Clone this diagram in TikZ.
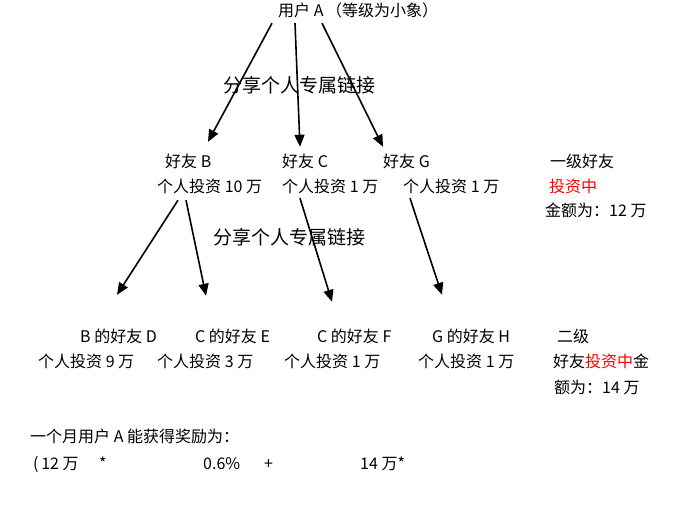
\documentclass[tikz,border=0pt]{standalone}
\usepackage{fontspec}
\setmainfont{Noto Sans CJK SC}
\usetikzlibrary{positioning, arrows.meta}

\begin{document}
\begin{tikzpicture}[x=1pt, y=-1pt, font=\fontsize{16}{18}\selectfont,
	lbl/.style={anchor=west, inner sep=2pt, text height=11pt, text depth=3pt},
	big/.style={lbl, font=\fontsize{19}{21}\selectfont},
	link/.style={-{Triangle[length=12pt, width=10pt]}, line width=1.6pt}]
	\useasboundingbox (0,0) rectangle (685,515);
	\node[lbl] (A) at (276,12) {用户 A\,（等级为小象）};
	\node[big] (share1) at (221,88) {分享个人专属链接};
	\node[lbl] (B) at (163,163) {好友 B};
	\node[lbl] (Binv) at (155,188) {个人投资 10 万};
	\node[lbl] (C) at (280,163) {好友 C};
	\node[lbl] (Cinv) at (280,188) {个人投资 1 万};
	\node[lbl] (G) at (381,163) {好友 G};
	\node[lbl] (Ginv) at (401,188) {个人投资 1 万};
	\node[lbl] (lvl1) at (548,163) {一级好友};
	\node[lbl] (lvl1a) at (547,188) {\textcolor{red}{投资中}};
	\node[lbl] (lvl1b) at (543,212) {金额为：12 万};
	\node[big] (share2) at (211,240) {分享个人专属链接};
	\node[lbl] (D) at (78,338) {B 的好友 D};
	\node[lbl] (Dinv) at (36,363) {个人投资 9 万};
	\node[lbl] (E) at (193,338) {C 的好友 E};
	\node[lbl] (Einv) at (155,363) {个人投资 3 万};
	\node[lbl] (F) at (315,338) {C 的好友 F};
	\node[lbl] (Finv) at (282,363) {个人投资 1 万};
	\node[lbl] (H) at (430,338) {G 的好友 H};
	\node[lbl] (Hinv) at (416,363) {个人投资 1 万};
	\node[lbl] (lvl2) at (555,338) {二级};
	\node[lbl] (lvl2a) at (551,363) {好友\textcolor{red}{投资中}金};
	\node[lbl] (lvl2b) at (552,389) {额为：14 万};
	\node[lbl] (sum) at (28,438) {一个月用户 A 能获得奖励为：};
	\node[lbl] (f1) at (31,465) {(\,12 万};
	\node[lbl] (f2) at (97,465) {*};
	\node[lbl] (f3) at (201,465) {0.6\%};
	\node[lbl] (f4) at (262,465) {+};
	\node[lbl] (f5) at (358,465) {14 万*};
	\draw[link] ([shift={(-4,2)}]A.south west) -- ([shift={(45,-12)}]B.north west);
	\draw[link] ([shift={(19,2)}]A.south west) -- ([shift={(20,-7)}]C.north west);
	\draw[link] ([shift={(46,2)}]A.south west) -- ([shift={(2,-7)}]G.north west);
	\draw[link] ([shift={(23,3)}]Binv.south west) -- ([shift={(39,-34)}]D.north west);
	\draw[link] ([shift={(31,3)}]Binv.south west) -- ([shift={(13,-33)}]E.north west);
	\draw[link] ([shift={(20,1)}]Cinv.south west) -- ([shift={(17,-27)}]F.north west);
	\draw[link] ([shift={(9,1)}]Ginv.south west) -- ([shift={(12,-34)}]H.north west);
\end{tikzpicture}
\end{document}
